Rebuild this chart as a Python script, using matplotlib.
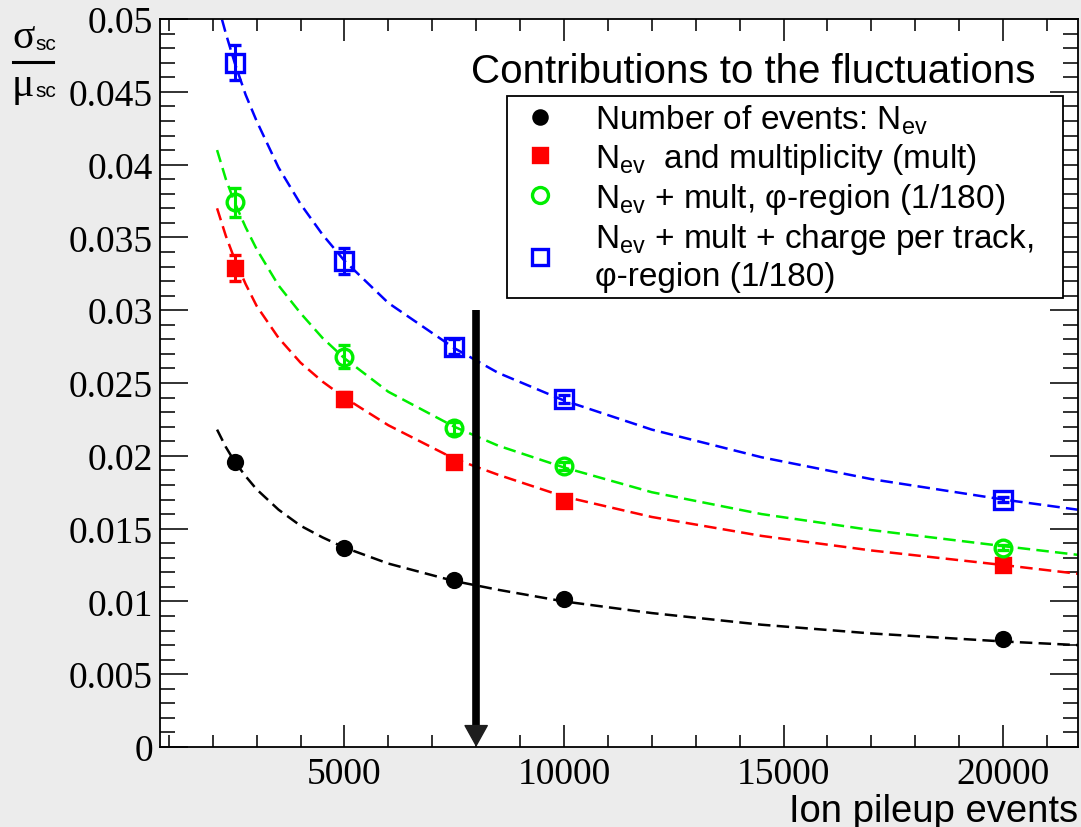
import numpy as np
import matplotlib.pyplot as plt
from matplotlib.lines import Line2D
from matplotlib.ticker import MultipleLocator

plt.rcParams['mathtext.fontset'] = 'custom'
plt.rcParams['mathtext.rm'] = 'Liberation Sans'
plt.rcParams['mathtext.sf'] = 'Liberation Sans'
plt.rcParams['mathtext.it'] = 'Liberation Sans:italic'

# measured points
pileup = [2500, 5000, 7500, 10000, 20000]
n_events = [0.0196, 0.0137, 0.0115, 0.0102, 0.0074]
n_events_err = [0.0003, 0.0002, 0.0002, 0.0002, 0.0002]
n_mult = [0.0329, 0.0239, 0.0196, 0.0169, 0.0125]
n_mult_err = [0.0009, 0.0005, 0.0003, 0.0002, 0.0002]
n_mult_phi = [0.0374, 0.0268, 0.0219, 0.0193, 0.0137]
n_mult_phi_err = [0.0010, 0.0008, 0.0004, 0.0003, 0.0002]
n_mult_charge = [0.0470, 0.0334, 0.0275, 0.0239, 0.0170]
n_mult_charge_err = [0.0012, 0.0009, 0.0005, 0.0003, 0.0002]

# dashed fit curves
fit_x = [2100, 2300, 2500, 2750, 3000, 3500, 4000, 4500, 5000, 6000,
         7500, 8500, 10000, 12000, 14500, 17000, 20000, 21700]
fit_events = [0.0218, 0.0206, 0.0196, 0.0186, 0.0177, 0.0163, 0.0152, 0.0144, 0.0137, 0.0126,
              0.0114, 0.0108, 0.0100, 0.0092, 0.0084, 0.0078, 0.00725, 0.0070]
fit_mult = [0.0370, 0.0351, 0.0335, 0.0318, 0.0303, 0.0281, 0.0264, 0.0251, 0.0240, 0.0221,
            0.0198, 0.0187, 0.0172, 0.0158, 0.0145, 0.0135, 0.0125, 0.0119]
fit_mult_phi = [0.0410, 0.0390, 0.0374, 0.0357, 0.0342, 0.0317, 0.0298, 0.0281, 0.0267, 0.0244,
                0.0220, 0.0207, 0.0192, 0.0175, 0.0160, 0.0149, 0.0138, 0.0132]
fit_mult_charge = [0.0512, 0.0490, 0.0470, 0.0448, 0.0430, 0.0398, 0.0373, 0.0352, 0.0334, 0.0305,
                   0.0274, 0.0257, 0.0238, 0.0218, 0.0199, 0.0184, 0.0170, 0.0163]

labels = [
    r'Number of events: N$_{\mathsf{ev}}$',
    r'N$_{\mathsf{ev}}$  and multiplicity (mult)',
    r'N$_{\mathsf{ev}}$ + mult, φ-region (1/180)',
    'N$_{\\mathsf{ev}}$ + mult + charge per track,\nφ-region (1/180)',
]

arrow_x = 8000
arrow_top = 0.03
arrow_head_base = 0.0014

fig = plt.figure(figsize=(10.81, 8.28), dpi=100, facecolor='#ececec')
ax = fig.add_axes([0.148, 0.0966, 0.849, 0.8792])

series = [
    (n_events, n_events_err, fit_events, 'black', 'o', 'black', 10),
    (n_mult, n_mult_err, fit_mult, 'red', 's', 'red', 10),
    (n_mult_phi, n_mult_phi_err, fit_mult_phi, '#00ee00', 'o', 'none', 12),
    (n_mult_charge, n_mult_charge_err, fit_mult_charge, 'blue', 's', 'none', 12.5),
]

handles = []
for y, yerr, fit_y, col, mk, face, size in series:
    ax.plot(fit_x, fit_y, color=col, lw=1.8, ls=(0, (5, 2.5)))
    ax.errorbar(pileup, y, yerr=yerr, fmt=mk, color=col, mfc=face, mec=col,
                ms=size, mew=2.4, elinewidth=2.2, capsize=4, capthick=2.2)
    handles.append(Line2D([], [], ls='none', marker=mk, color=col, mfc=face,
                          mec=col, ms=size - 0.5, mew=2.4))

# arrow at 8000 pileup events
ax.plot([arrow_x, arrow_x], [arrow_top, arrow_head_base], color='black', lw=5.5,
        solid_capstyle='butt')
ax.annotate('', xy=(arrow_x, 0), xytext=(arrow_x, arrow_head_base),
            arrowprops=dict(arrowstyle='-|>,head_length=0.72,head_width=0.4',
                            lw=1, color='#1e1e1e', shrinkA=0, shrinkB=0,
                            mutation_scale=20))

ax.set_xlim(800, 21700)
ax.set_ylim(0, 0.05)
ax.xaxis.set_major_locator(MultipleLocator(5000))
ax.xaxis.set_minor_locator(MultipleLocator(1000))
ax.yaxis.set_minor_locator(MultipleLocator(0.001))
ax.set_yticks(np.arange(0, 0.0501, 0.005))
ax.set_yticklabels(['0', '0.005', '0.01', '0.015', '0.02', '0.025',
                    '0.03', '0.035', '0.04', '0.045', '0.05'])

ax.tick_params(which='both', direction='in', top=True, right=True, width=1.3,
               labelsize=27, color='#222222')
ax.tick_params(axis='y', which='major', length=20, pad=5)
ax.tick_params(axis='y', which='minor', length=11)
ax.tick_params(axis='x', which='major', length=16, pad=7)
ax.tick_params(axis='x', which='minor', length=8.5)
for lab in ax.get_xticklabels() + ax.get_yticklabels():
    lab.set_family('Liberation Serif')
for sp in ax.spines.values():
    sp.set_linewidth(1.3)

ax.set_xlabel('Ion pileup events', fontsize=27.5, family='Liberation Sans',
              loc='right', labelpad=1)

# y title: sigma_sc over mu_sc
fig.text(0.011, 0.955, 'σ', fontsize=30, family='Liberation Serif', va='center')
fig.text(0.033, 0.946, 'sc', fontsize=15, family='Liberation Sans', va='center')
fig.text(0.011, 0.896, 'μ', fontsize=30, family='Liberation Serif', va='center')
fig.text(0.033, 0.889, 'sc', fontsize=15, family='Liberation Sans', va='center')
fig.add_artist(Line2D([0.012, 0.049], [0.924, 0.924], color='black', lw=2.2,
                      transform=fig.transFigure))

fig.text(0.958, 0.913, 'Contributions to the fluctuations', fontsize=29,
         family='Liberation Sans', ha='right', va='center')

leg = ax.legend(handles, labels, loc='upper left',
                bbox_to_anchor=(0.469, 0.640, 0.514, 0.243),
                bbox_transform=fig.transFigure, mode='expand',
                prop={'family': 'Liberation Sans', 'size': 24},
                frameon=True, fancybox=False, framealpha=1, edgecolor='black',
                borderpad=0.2, labelspacing=0.15, handletextpad=0.85,
                handlelength=1.6, borderaxespad=0)
leg.get_frame().set_linewidth(1.3)

fig.savefig('out.png', dpi=100, facecolor=fig.get_facecolor())
